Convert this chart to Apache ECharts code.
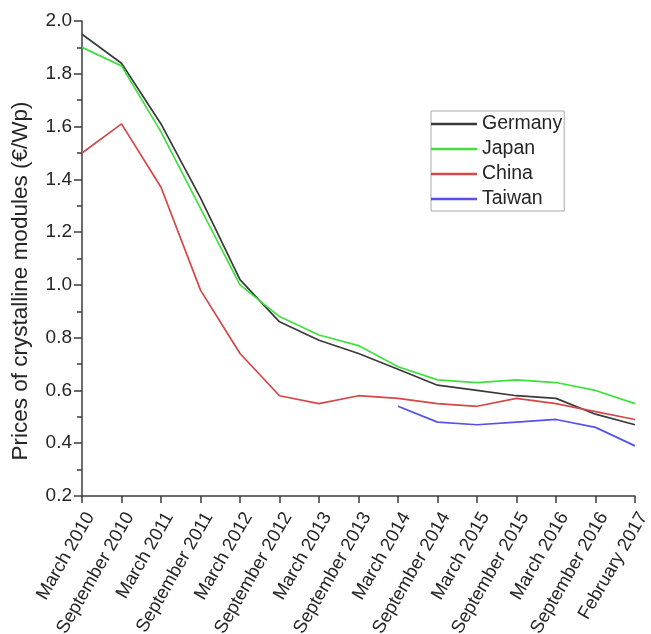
<!DOCTYPE html>
<html>
<head>
<meta charset="utf-8">
<script src="https://cdn.jsdelivr.net/npm/echarts@6/dist/echarts.min.js"></script>
<style>
  html, body { margin: 0; padding: 0; background: #fff; }
  #chart { width: 651px; height: 634px; }
</style>
</head>
<body>
<div id="chart"></div>
<script>
// Survey dates (x categories)
const periods = [
  'March 2010', 'September 2010', 'March 2011', 'September 2011', 'March 2012',
  'September 2012', 'March 2013', 'September 2013', 'March 2014', 'September 2014',
  'March 2015', 'September 2015', 'March 2016', 'September 2016', 'February 2017'
];

// Module prices in €/Wp by origin
const germany = [1.95, 1.84, 1.61, 1.33, 1.02, 0.86, 0.79, 0.74, 0.68, 0.62, 0.60, 0.58, 0.57, 0.51, 0.47];
const japan   = [1.90, 1.83, 1.58, 1.29, 1.00, 0.88, 0.81, 0.77, 0.69, 0.64, 0.63, 0.64, 0.63, 0.60, 0.55];
const china   = [1.50, 1.61, 1.37, 0.98, 0.74, 0.58, 0.55, 0.58, 0.57, 0.55, 0.54, 0.57, 0.55, 0.52, 0.49];
const taiwan  = [null, null, null, null, null, null, null, null, 0.54, 0.48, 0.47, 0.48, 0.49, 0.46, 0.39];

const seriesNames = ['Germany', 'Japan', 'China', 'Taiwan'];
const seriesData = [germany, japan, china, taiwan];
const seriesColors = ['#3a3a3a', '#3fe03f', '#d44848', '#5353ec'];

const yTitle = 'Prices of crystalline modules (€/Wp)';

const FONT = '"Liberation Sans", Arial, sans-serif';
const AXIS_COLOR = '#3c3c3c';

const chart = echarts.init(document.getElementById('chart'), null, { renderer: 'canvas' });

chart.setOption({
  animation: false,
  backgroundColor: '#ffffff',
  textStyle: { fontFamily: FONT },
  grid: {
    left: 82, right: 16, top: 21, bottom: 138,
    containLabel: false,
    outerBoundsMode: 'none'
  },
  legend: {
    orient: 'vertical',
    left: 431,
    top: 111,
    width: 135,
    padding: [3, 2, 2, 0],
    borderColor: '#aaaaaa',
    borderWidth: 1,
    icon: 'rect',
    itemWidth: 46,
    itemHeight: 2.5,
    itemGap: 5,
    data: seriesNames,
    textStyle: { fontFamily: FONT, fontSize: 19.5, color: '#262626' }
  },
  xAxis: {
    type: 'category',
    data: periods,
    boundaryGap: false,
    axisLine: { lineStyle: { color: AXIS_COLOR, width: 1.5 } },
    axisTick: { length: 7, lineStyle: { color: AXIS_COLOR, width: 1.5 } },
    splitLine: { show: false },
    axisLabel: {
      interval: 0,
      rotate: 60,
      margin: 13,
      verticalAlign: 'top',
      fontFamily: FONT,
      fontSize: 18.5,
      color: '#262626'
    }
  },
  yAxis: {
    type: 'value',
    min: 0.2,
    max: 2.0,
    interval: 0.2,
    axisLine: { show: true, lineStyle: { color: AXIS_COLOR, width: 1.5 } },
    axisTick: { show: true, length: 8, lineStyle: { color: AXIS_COLOR, width: 1.5 } },
    minorTick: { show: true, splitNumber: 2, length: 5, lineStyle: { color: AXIS_COLOR, width: 1.5 } },
    splitLine: { show: false },
    axisLabel: {
      margin: 10,
      fontFamily: FONT,
      fontSize: 19,
      color: '#262626',
      formatter: v => v.toFixed(1)
    }
  },
  graphic: [{
    type: 'text',
    x: 21,
    y: 281,
    rotation: Math.PI / 2,
    style: {
      text: yTitle,
      fontFamily: FONT,
      fontSize: 22.5,
      fill: '#262626',
      align: 'center',
      verticalAlign: 'middle'
    }
  }],
  series: seriesNames.map((name, i) => ({
    name: name,
    type: 'line',
    data: seriesData[i],
    symbol: 'none',
    connectNulls: false,
    color: seriesColors[i],
    lineStyle: { color: seriesColors[i], width: 1.7 }
  }))
});
</script>
</body>
</html>
